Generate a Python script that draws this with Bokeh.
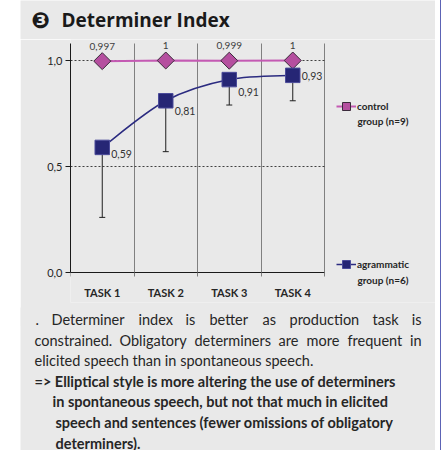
import math
from bokeh.plotting import figure
from bokeh.models import (FixedTicker, CustomJSTickFormatter, Label, Legend, LegendItem,
                          ColumnDataSource, Range1d, Spacer)
from bokeh.layouts import column, row
from bokeh.embed import file_html
from bokeh.resources import INLINE
from bokeh.core.properties import value

# ---------------- data ----------------
tasks = ["TASK 1", "TASK 2", "TASK 3", "TASK 4"]
control = [0.997, 1.0, 0.999, 1.0]
control_text = ["0,997", "1", "0,999", "1"]
agram = [0.59, 0.81, 0.91, 0.93]
agram_text = ["0,59", "0,81", "0,91", "0,93"]
agram_low = [0.26, 0.57, 0.79, 0.81]
y_ticks = [0.0, 0.5, 1.0]
y_top = 1.08

# styling helpers (label offsets in px, not data)
agram_label_dy = [7, 10, 12, 1]

BG = "#e9e9e9"
TXT = "#262626"
CTRL_LINE = "#c45ab3"
CTRL_FILL = "#b54f9f"
AGR = "#262675"
W = 415
TOTAL_H = 450
PX_X = 63.5   # px per category
PX_Y = 212.0  # px per unit

xs = [i + 0.5 for i in range(len(tasks))]


def canvas(h, **kw):
    f = figure(width=W, height=h, x_range=Range1d(0, W), y_range=Range1d(0, h),
               output_backend="svg", toolbar_location=None, min_border=0,
               background_fill_color=BG, border_fill_color=BG, outline_line_color=None,
               frame_align=False, **kw)
    f.axis.visible = False
    f.grid.visible = False
    return f


def tlab(fig, fig_top, fig_h, text, img_x, img_y, size="14.5px", style="normal",
         align="left", font="Lato", color=TXT):
    fig.add_layout(Label(x=img_x - 20, y=fig_h - (img_y - fig_top), text=text,
                         text_font=font, text_font_size=size, text_font_style=style,
                         text_align=align, text_baseline="alphabetic", text_color=color))


# ---------------- title ----------------
TOP_H = 39
top = canvas(TOP_H)
tlab(top, 0, TOP_H, "\u2778", 31, 20, size="22px", style="bold", font="DejaVu Sans",
     color="#1a1a1a")
tlab(top, 0, TOP_H, "Determiner Index", 61, 19, size="19px", style="bold", font="Open Sans",
     color="#1a1a1a")

# ---------------- chart ----------------
FR_L, FR_R, FR_T, FR_B = 70, 435, 39, 302   # frame box in page px
Y0 = 272                                    # page y of value 0
BORDER_B = 24
P_H = FR_B + BORDER_B - FR_T
BOT_TOP = 307
OVERLAP = FR_T + P_H - BOT_TOP

p = figure(width=W, height=P_H,
           x_range=Range1d(0, (FR_R - FR_L) / PX_X),
           y_range=Range1d(-(FR_B - Y0) / PX_Y, (Y0 - FR_T) / PX_Y),
           output_backend="svg", toolbar_location=None, frame_align=False,
           min_border_left=FR_L - 20, min_border_right=0, min_border_top=0,
           min_border_bottom=BORDER_B,
           background_fill_color=BG, border_fill_color=BG, outline_line_color=None)

p.xaxis.ticker = FixedTicker(ticks=xs, minor_ticks=list(range(len(tasks) + 1)))
p.xaxis.formatter = CustomJSTickFormatter(args=dict(labels=tasks),
                                          code="return labels[Math.floor(tick)]")
p.xaxis.fixed_location = 0
p.xaxis.bounds = (0, len(tasks))
p.xaxis.major_tick_line_color = None
p.xaxis.major_tick_out = 0
p.xaxis.major_tick_in = 0
p.xaxis.minor_tick_in = 0
p.xaxis.minor_tick_out = 4
p.xaxis.minor_tick_line_color = "#7f7f7f"
p.xaxis.axis_line_color = "#1a1a1a"
p.xaxis.major_label_standoff = 9
p.xaxis.major_label_text_font = "Lato"
p.xaxis.major_label_text_font_style = "bold"
p.xaxis.major_label_text_font_size = "11px"
p.xaxis.major_label_text_color = TXT
p.xgrid.grid_line_color = None
p.xgrid.minor_grid_line_color = "#808080"
p.xgrid.cross_bounds = (0, y_top)

p.yaxis.ticker = FixedTicker(ticks=y_ticks)
p.yaxis.formatter = CustomJSTickFormatter(code="return tick.toFixed(1).replace('.', ',')")
p.yaxis.bounds = (0, y_top)
p.yaxis.major_tick_out = 5
p.yaxis.major_tick_in = 0
p.yaxis.major_tick_line_color = "#1a1a1a"
p.yaxis.axis_line_color = "#1a1a1a"
p.yaxis.major_label_standoff = 3
p.yaxis.major_label_text_font = "Lato"
p.yaxis.major_label_text_font_size = "11px"
p.yaxis.major_label_text_color = TXT
p.ygrid.grid_line_color = "#404040"
p.ygrid.grid_line_dash = "2 2"
p.ygrid.cross_bounds = (0, len(tasks))

ctrl_line = p.line(xs, control, line_color=CTRL_LINE, line_width=2)
ctrl_pts = p.scatter(xs, control, marker="square", angle=math.pi / 4, size=12,
                     fill_color=CTRL_FILL, line_color="#3b2a3b", line_width=1)
p.text(xs, control, text=control_text, text_font=value("Lato"), text_font_size="10px",
       text_color="#404040", text_align="center", text_baseline="middle", y_offset=-15)

p.segment(x0=xs, y0=agram_low, x1=xs, y1=agram, line_color="#1f1f1f", line_width=1)
p.scatter(xs, agram_low, marker="dash", size=6, line_color="#1f1f1f", line_width=1)

pts = list(zip(xs, agram))
ext = [pts[0]] + pts + [pts[-1]]
bx0, by0, bx1, by1, cx0, cy0, cx1, cy1 = ([] for _ in range(8))
for i in range(len(pts) - 1):
    a, b, c, d = ext[i], ext[i + 1], ext[i + 2], ext[i + 3]
    bx0.append(b[0]); by0.append(b[1]); bx1.append(c[0]); by1.append(c[1])
    cx0.append(b[0] + (c[0] - a[0]) / 6); cy0.append(b[1] + (c[1] - a[1]) / 6)
    cx1.append(c[0] - (d[0] - b[0]) / 6); cy1.append(c[1] - (d[1] - b[1]) / 6)
agr_curve = p.bezier(x0=bx0, y0=by0, x1=bx1, y1=by1, cx0=cx0, cy0=cy0, cx1=cx1, cy1=cy1,
                     line_color="#2b2b80", line_width=1.5)
agr_pts = p.scatter(xs, agram, marker="square", size=14.5, fill_color=AGR,
                    line_color="#4b4b9a", line_width=1)
src = ColumnDataSource(dict(x=xs, y=agram, t=agram_text, dy=agram_label_dy))
p.text("x", "y", text="t", source=src, text_font=value("Lato"), text_font_size="10.5px",
       text_color="#333333", text_align="left", text_baseline="middle", x_offset=9,
       y_offset="dy")


def lg(item, img_x, img_y_center):
    return Legend(items=[item], location=(img_x - FR_L, FR_B - img_y_center - 10),
                  padding=0, margin=0, border_line_color=None, background_fill_alpha=0,
                  glyph_width=20, glyph_height=20, label_height=20, label_standoff=1,
                  label_text_font="Lato", label_text_font_style="bold",
                  label_text_font_size="10px", label_text_color=TXT)


p.add_layout(lg(LegendItem(label="control", renderers=[ctrl_line, ctrl_pts]), 336, 106))
p.add_layout(lg(LegendItem(label="agrammatic", renderers=[agr_curve, agr_pts]), 336, 264))


def flab(text, img_x, img_y):
    p.add_layout(Label(x=img_x - FR_L, y=FR_B - img_y, x_units="screen", y_units="screen",
                       text=text, text_font="Lato", text_font_size="10px",
                       text_font_style="bold", text_align="left", text_baseline="middle",
                       text_color=TXT))


flab("group (n=9)", 357, 120)
flab("group (n=6)", 357, 279)

# ---------------- body text ----------------
BOT_H = TOTAL_H - BOT_TOP
bot = canvas(BOT_H, styles={"margin-top": f"-{OVERLAP}px"})


def blab(text, img_x, img_y, style="normal", align="left"):
    tlab(bot, BOT_TOP, BOT_H, text, img_x, img_y, style=style, align=align)


line1 = [(".", 35), ("Determiner", 51), ("index", 138), ("is", 185), ("better", 209),
         ("as", 262), ("production", 289), ("task", 372)]
for w_, x_ in line1:
    blab(w_, x_, 319)
blab("is", 421, 319, align="right")
line2 = [("constrained.", 34), ("Obligatory", 119), ("determiners", 194), ("are", 278),
         ("more", 306), ("frequent", 347)]
for w_, x_ in line2:
    blab(w_, x_, 339.6)
blab("in", 421, 339.6, align="right")
blab("elicited speech than in spontaneous speech.", 34, 360.2)
blab("=> Elliptical style is more altering the use of determiners", 34, 380.8, style="bold")
blab("in spontaneous speech, but not that much in elicited", 52, 401.4, style="bold")
blab("speech and sentences (fewer omissions of obligatory", 55, 422, style="bold")
blab("determiners).", 55, 442.6, style="bold")

layout = row(Spacer(width=20, height=TOTAL_H), column(top, p, bot),
             Spacer(width=5, height=TOTAL_H),
             Spacer(width=1, height=TOTAL_H, styles={"background-color": "#5c63b5"}))

open("out.html", "w").write(file_html(layout, INLINE))
